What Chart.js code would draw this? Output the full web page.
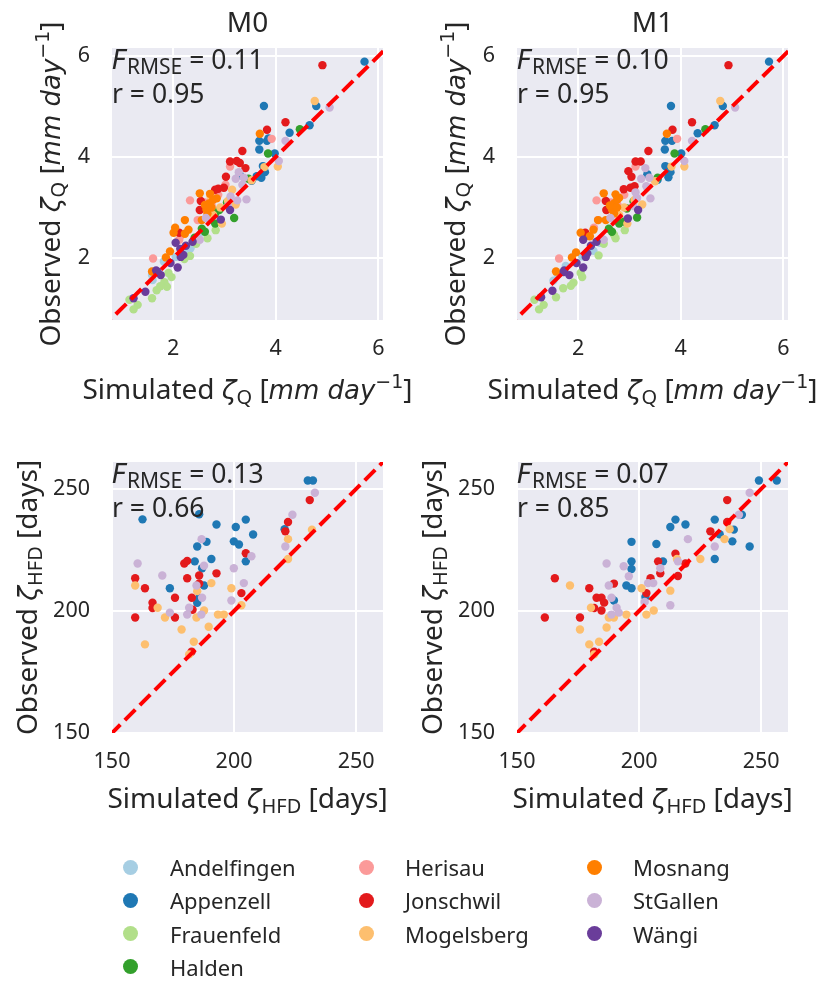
<!DOCTYPE html>
<html><head><meta charset="utf-8">
<script src="https://cdn.jsdelivr.net/npm/chart.js@4.4.0/dist/chart.umd.min.js"></script>
<style>
html,body{margin:0;padding:0;background:#fff;}
#wrap{position:relative;width:821px;height:981px;overflow:hidden;background:#fff;}
#wrap canvas{position:absolute;left:0;top:0;}
.lg{position:absolute;font-family:'Noto Sans';font-size:22px;color:#262626;white-space:nowrap;line-height:30px;height:30px;}
.dot{position:absolute;width:15px;height:15px;border-radius:50%;}
</style></head><body>
<div id="wrap">
<canvas id="c0" width="821" height="981"></canvas>
<canvas id="c1" width="821" height="981"></canvas>
<canvas id="c2" width="821" height="981"></canvas>
<canvas id="c3" width="821" height="981"></canvas>
</div>
<script>
const stations = ['Andelfingen','Appenzell','Frauenfeld','Halden','Herisau','Jonschwil','Mogelsberg','Mosnang','StGallen','Wängi'];
const colors = ['#a6cee3','#1f78b4','#b2df8a','#33a02c','#fb9a99','#e31a1c','#fdbf6f','#ff7f00','#cab2d6','#6a3d9a'];
const titles = ['M0','M1'];
const fRmse = ['0.11','0.10','0.13','0.07'];
const rVals = ['0.95','0.95','0.66','0.85'];
const qTicks = [2,4,6];
const hTicks = [150,200,250];
const qXRange = [0.81,6.09];
const qYRange = [0.77,6.16];
const hXRange = [150,261];
const hYRange = [150,261];
const qDiag = [0,7];
const hDiag = [100,300];

// [simulated, observed] per station, order as in `stations`
const qM0 = [
 [[2.34,2.19],[1.59,1.66],[1.82,1.93],[2.56,2.51],[1.60,1.56],[2.28,2.12],[2.05,2.02]],
 [[5.73,5.89],[3.77,5.01],[4.79,5.01],[4.66,4.63],[4.27,4.48],[3.68,4.32],[3.68,4.15],[3.83,4.32],[3.98,4.07],[3.75,3.82],[3.79,3.70],[3.72,3.59],[3.30,3.64],[3.53,3.53],[3.86,4.37],[3.63,3.62]],
 [[2.83,2.55],[2.67,2.39],[2.33,2.04],[1.91,1.70],[1.88,1.43],[1.68,1.36],[1.59,1.20],[1.31,1.07],[1.23,0.98],[1.15,1.17],[1.83,1.52],[1.97,1.62],[1.75,1.44],[2.45,2.28],[2.22,1.98]],
 [[4.47,4.55],[3.85,4.07],[3.47,3.57],[3.19,2.79],[2.82,2.88],[2.56,2.58],[2.82,2.68],[2.90,2.95],[3.05,3.10],[2.62,2.52],[2.42,2.40]],
 [[3.92,4.36],[3.11,3.81],[2.33,3.14],[2.12,2.36],[1.61,1.99],[2.88,3.25],[2.48,2.75],[2.62,3.10],[2.75,3.05],[2.15,2.45],[3.02,3.45]],
 [[4.91,5.82],[4.19,4.69],[3.83,4.54],[3.35,4.12],[3.11,3.91],[3.24,3.92],[3.41,3.78],[3.03,3.61],[2.99,3.39],[2.88,3.37],[2.82,3.35],[2.54,3.13],[2.52,2.95],[2.12,2.50],[3.30,3.88]],
 [[4.76,5.11],[4.04,3.81],[3.53,3.54],[3.07,3.13],[3.22,3.06],[2.95,2.68],[2.92,3.00],[2.78,2.85],[3.78,3.80],[2.73,3.22],[3.15,3.35]],
 [[3.69,4.46],[2.52,3.28],[2.72,3.27],[2.70,3.08],[2.85,3.18],[2.65,2.96],[2.67,2.88],[2.56,2.75],[2.23,2.75],[2.04,2.60],[2.01,2.50],[2.23,2.48],[2.30,2.56],[1.94,2.13],[1.86,2.01],[1.59,1.73],[2.78,3.15],[2.62,3.05],[2.75,3.00]],
 [[5.05,4.98],[4.19,4.32],[4.06,3.92],[3.22,3.57],[3.38,3.59],[3.12,3.22],[3.25,3.14],[3.43,3.16],[3.07,3.03],[2.64,2.79],[2.52,2.36],[3.35,3.45],[3.28,3.70]],
 [[2.38,2.32],[2.14,2.18],[2.20,2.06],[2.09,1.81],[1.67,1.75],[1.76,1.66],[1.46,1.33],[1.23,1.20],[2.25,2.24],[1.95,1.90],[2.15,2.02],[1.70,1.72],[3.11,2.95],[2.93,2.76],[2.05,2.30]]
];
const qM1 = [
 [[2.48,2.36],[1.60,1.68],[2.42,2.30],[1.76,1.84],[2.30,2.14],[1.52,1.55],[2.08,2.03]],
 [[5.72,5.89],[3.81,5.01],[4.82,5.01],[4.66,4.63],[4.33,4.47],[3.70,4.32],[3.69,4.15],[3.83,4.32],[4.01,4.07],[3.70,3.82],[3.80,3.70],[3.35,3.66],[3.55,3.55],[3.76,3.60]],
 [[2.91,2.55],[2.73,2.39],[2.05,1.70],[1.91,1.51],[1.71,1.40],[1.57,1.22],[1.33,1.07],[1.24,0.98],[1.15,1.17],[2.40,2.05],[2.08,1.62],[1.86,1.45],[2.50,2.28],[2.70,2.46]],
 [[4.48,4.55],[3.88,4.07],[3.55,3.59],[3.15,2.80],[2.80,2.68],[2.60,2.58],[2.88,2.72],[2.95,2.98],[3.08,3.12],[2.66,2.52]],
 [[3.93,4.36],[3.12,3.81],[2.36,3.14],[2.31,2.60],[1.63,1.99],[2.90,3.25],[2.39,2.75],[2.64,3.10],[2.77,3.05],[2.18,2.45]],
 [[4.93,5.82],[4.22,4.69],[3.84,4.54],[3.37,4.12],[3.12,3.91],[3.22,3.91],[3.04,3.61],[2.89,3.36],[3.02,3.39],[3.10,3.42],[2.54,3.13],[2.98,3.72],[2.55,2.95],[2.14,2.50]],
 [[4.77,5.11],[4.07,3.81],[3.82,3.81],[3.25,3.06],[2.96,2.68],[3.10,3.15],[2.90,3.00],[2.80,2.85],[3.50,3.52]],
 [[3.73,4.46],[2.50,3.28],[2.73,3.26],[2.70,3.08],[2.80,3.19],[2.66,2.96],[2.70,2.88],[2.54,2.75],[2.39,2.75],[2.05,2.50],[2.23,2.43],[2.30,2.56],[1.96,2.11],[1.88,2.01],[1.57,1.73],[2.76,3.15],[2.62,3.04],[2.76,3.00]],
 [[5.06,4.98],[4.22,4.32],[4.07,3.92],[3.23,3.57],[3.39,3.59],[3.31,3.78],[3.15,3.19],[3.41,3.18],[3.08,3.03],[2.63,2.79],[2.50,2.36],[3.33,3.42],[3.12,3.30]],
 [[2.36,2.32],[2.10,2.36],[2.18,2.09],[2.10,1.81],[1.73,1.75],[1.83,1.66],[1.28,1.22],[1.50,1.35],[2.25,2.24],[1.97,1.90],[2.15,2.02],[1.72,1.72],[3.17,2.95],[2.97,2.78]]
];
const hM0 = [
 [],
 [[230.2,253.4],[232.3,253.4],[162.5,237.5],[185.7,239.6],[192.8,235.4],[200.7,234.4],[204.8,237.4],[207.8,231.3],[184.9,226.4],[188.7,228.3],[199.9,228.5],[202.0,227.2],[183.9,220.3],[190.7,221.3],[186.9,217.5],[204.8,220.3],[173.7,209.3],[187.7,210.4],[185.7,205.3],[220.7,233.5],[184.9,203.3]],
 [],
 [],
 [],
 [[231.0,245.4],[222.1,236.4],[221.0,232.6],[204.8,223.6],[179.6,219.4],[180.8,220.5],[192.8,215.4],[185.7,214.5],[180.8,213.4],[185.7,211.2],[159.5,213.4],[163.5,209.3],[175.8,205.4],[182.7,205.4],[203.0,207.3],[166.6,203.4],[166.6,201.2],[183.0,200.5],[175.8,197.3],[159.5,197.3],[182.6,183.3]],
 [[231.9,233.3],[222.1,229.4],[222.1,221.3],[190.7,211.4],[198.9,209.3],[184.9,208.1],[203.0,202.3],[187.7,200.2],[184.6,197.3],[171.7,197.3],[168.7,201.3],[159.5,210.4],[193.4,198.5],[195.8,198.5],[178.5,192.4],[189.6,193.5],[183.5,187.4],[163.5,186.3],[181.6,182.2]],
 [],
 [[233.1,248.4],[223.9,239.4],[221.0,226.4],[186.7,229.4],[160.5,219.4],[170.6,214.5],[187.7,218.5],[199.9,217.5],[207.1,222.4],[204.0,211.4],[198.9,204.3],[184.6,210.4],[186.9,205.4],[181.6,201.3],[173.7,199.3],[180.8,198.5],[186.6,198.5]],
 []
];
const hM1 = [
 [],
 [[249.1,253.4],[256.4,253.4],[242.1,239.4],[231.0,237.4],[238.8,233.3],[233.0,231.4],[238.2,228.5],[245.3,226.4],[231.0,221.3],[214.9,237.4],[212.8,234.4],[219.0,235.4],[207.1,227.4],[196.9,228.3],[196.9,220.3],[196.9,217.2],[209.8,220.3],[194.8,210.4],[196.9,209.3],[189.7,204.3],[202.6,205.7]],
 [],
 [],
 [],
 [[236.1,245.4],[236.1,236.4],[229.2,232.6],[214.9,223.4],[207.8,220.3],[219.0,219.4],[208.7,215.4],[215.9,214.3],[204.7,213.4],[189.7,211.2],[165.5,213.4],[179.6,209.3],[182.6,205.4],[184.6,205.4],[185.7,203.4],[181.6,201.2],[184.6,200.2],[203.0,207.3],[175.8,197.3],[161.4,197.3],[181.6,183.3]],
 [[237.1,233.5],[235.0,229.4],[225.1,221.3],[215.5,221.3],[171.7,210.4],[201.0,209.3],[212.8,208.3],[180.3,201.3],[187.6,197.3],[189.7,197.3],[194.8,198.5],[203.0,198.5],[206.0,200.2],[175.8,192.4],[186.7,193.2],[179.6,186.3],[183.6,187.4],[181.6,182.2]],
 [],
 [[245.3,248.4],[240.9,239.4],[231.0,226.4],[220.0,229.4],[215.9,220.3],[208.7,217.5],[186.7,219.4],[193.7,218.3],[195.8,214.2],[187.6,210.4],[188.7,205.4],[190.8,201.3],[191.7,199.3],[188.7,198.5],[203.7,211.4],[205.8,211.4],[212.8,202.3],[202.3,203.7]],
 []
];

const W = 821, H = 981;
const FONT = "'Noto Sans'";
const MATH = "'DejaVu Sans'";
const TXT = '#262626';
const YW = 80, XH = 60;

function fontStr(s, base){
  const sz = s.size || base;
  return (s.it ? 'italic ' : '') + sz + 'px ' + (s.math ? MATH : FONT);
}
function richWidth(ctx, segs, base){
  let w = 0;
  for (const s of segs){ ctx.font = fontStr(s, base); w += ctx.measureText(s.t).width; }
  return w;
}
function drawRich(ctx, segs, x, y, base, align, rot){
  ctx.save();
  ctx.translate(x, y);
  if (rot) ctx.rotate(rot);
  ctx.fillStyle = TXT;
  ctx.textBaseline = 'alphabetic';
  ctx.textAlign = 'left';
  let cx = align === 'center' ? -richWidth(ctx, segs, base) / 2 : 0;
  for (const s of segs){
    ctx.font = fontStr(s, base);
    ctx.fillText(s.t, cx, s.dy || 0);
    cx += ctx.measureText(s.t).width;
  }
  ctx.restore();
}

const labQx = [{t:'Simulated '},{t:'ζ',it:true,math:true,size:27},{t:'Q',size:20,dy:5},{t:' ['},{t:'mm day',it:true,math:true,size:26},{t:'−1',math:true,size:19,dy:-11},{t:']'}];
const labQy = [{t:'Observed '},{t:'ζ',it:true,math:true,size:27},{t:'Q',size:20,dy:5},{t:' ['},{t:'mm day',it:true,math:true,size:26},{t:'−1',math:true,size:19,dy:-11},{t:']'}];
const labHx = [{t:'Simulated '},{t:'ζ',it:true,math:true,size:27},{t:'HFD',size:20,dy:5},{t:' [days]'}];
const labHy = [{t:'Observed '},{t:'ζ',it:true,math:true,size:27},{t:'HFD',size:20,dy:5},{t:' [days]'}];

const panels = [
  {id:'c0', data:qM0, area:[112,48,383,320], kind:'Q', title:titles[0], f:fRmse[0], r:rVals[0], ylx:60, xly:399},
  {id:'c1', data:qM1, area:[517,48,788,320], kind:'Q', title:titles[1], f:fRmse[1], r:rVals[1], ylx:465, xly:399},
  {id:'c2', data:hM0, area:[112,462,383,733], kind:'H', title:null, f:fRmse[2], r:rVals[2], ylx:37, xly:808},
  {id:'c3', data:hM1, area:[517,462,788,733], kind:'H', title:null, f:fRmse[3], r:rVals[3], ylx:442, xly:808}
];

const bgPlugin = {
  id:'bg',
  beforeDraw(chart){
    const a = chart.chartArea, c = chart.ctx;
    c.save(); c.fillStyle = '#EAEAF2'; c.fillRect(a.left, a.top, a.right - a.left, a.bottom - a.top); c.restore();
  }
};

function textPlugin(p){
  return {
    id:'txt' + p.id,
    afterDraw(chart){
      const a = chart.chartArea, c = chart.ctx;
      const cx = (a.left + a.right) / 2, cy = (a.top + a.bottom) / 2;
      const isQ = p.kind === 'Q';
      if (p.title) drawRich(c, [{t:p.title}], cx, 32, 28, 'center');
      drawRich(c, isQ ? labQx : labHx, cx, p.xly, 28, 'center');
      drawRich(c, isQ ? labQy : labHy, p.ylx, cy, 28, 'center', -Math.PI / 2);
      drawRich(c, [{t:'F',it:true,math:true,size:26},{t:'RMSE',size:21,dy:5},{t:' = ' + p.f}], a.left, a.top + 21, 26.5, 'left');
      drawRich(c, [{t:'r = ' + p.r}], a.left, a.top + 55, 26.5, 'left');
    }
  };
}

function makeChart(p){
  const isQ = p.kind === 'Q';
  const xr = isQ ? qXRange : hXRange, yr = isQ ? qYRange : hYRange;
  const tk = isQ ? qTicks : hTicks;
  const diag = isQ ? qDiag : hDiag;
  const datasets = stations.map((s, i) => ({
    type:'scatter', label:s,
    data:p.data[i].map(([x, y]) => ({x, y})),
    backgroundColor:colors[i], borderWidth:0, pointRadius:4.2, pointHoverRadius:4.2,
    order:100 - i
  }));
  datasets.push({
    type:'line', label:'1:1', data:diag.map(v => ({x:v, y:v})),
    borderColor:'#ff0000', borderWidth:4, borderDash:[14.8,6.4], borderCapStyle:'butt',
    pointRadius:0, fill:false, order:0, clip:0
  });
  const [L, T, R, B] = p.area;
  const axis = (range, pad, fitKey, fitVal) => ({
    type:'linear', min:range[0], max:range[1],
    afterFit:s => { s[fitKey] = fitVal; },
    afterBuildTicks:s => { s.ticks = tk.map(v => ({value:v})); },
    grid:{color:'#ffffff', lineWidth:2, drawTicks:false},
    border:{display:false},
    ticks:{padding:pad, color:TXT, font:{family:FONT, size:21.5}, autoSkip:false, maxRotation:0, callback:v => String(v)}
  });
  new Chart(document.getElementById(p.id), {
    type:'scatter',
    data:{datasets},
    options:{
      responsive:false, animation:false, events:[],
      layout:{padding:{left:L - YW, top:T, right:W - R, bottom:H - B - XH}},
      plugins:{legend:{display:false}, tooltip:{enabled:false}, title:{display:false}},
      scales:{
        x:axis(xr, 16, 'height', XH),
        y:axis(yr, 22, 'width', YW)
      }
    },
    plugins:[bgPlugin, textPlugin(p)]
  });
}
panels.forEach(makeChart);

// legend
const wrap = document.getElementById('wrap');
const legCols = [[0,1,2,3],[4,5,6],[7,8,9]];
const colDotX = [130,366,594], colTextX = [170,405,633];
legCols.forEach((col, ci) => {
  col.forEach((si, ri) => {
    const cy = 867 + ri * 33.3;
    const d = document.createElement('div');
    d.className = 'dot';
    d.style.left = (colDotX[ci] - 7.5) + 'px';
    d.style.top = (cy - 7.5) + 'px';
    d.style.background = colors[si];
    wrap.appendChild(d);
    const t = document.createElement('div');
    t.className = 'lg';
    t.style.left = colTextX[ci] + 'px';
    t.style.top = (cy - 15) + 'px';
    t.textContent = stations[si];
    wrap.appendChild(t);
  });
});
</script>
</body></html>
